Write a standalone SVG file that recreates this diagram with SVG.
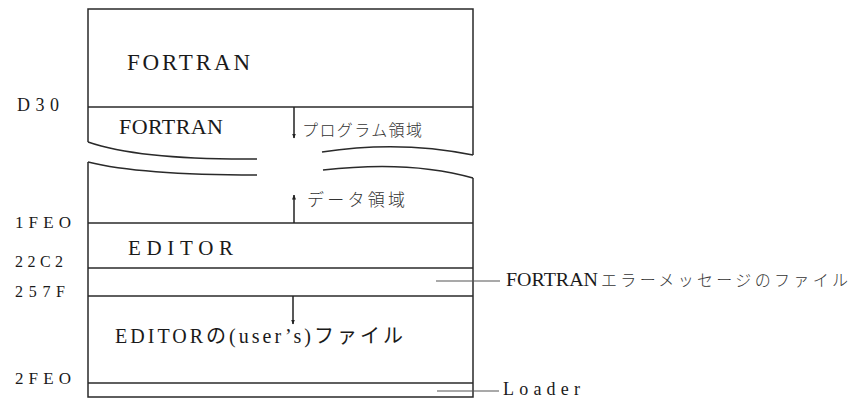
<svg xmlns="http://www.w3.org/2000/svg" width="861" height="399" viewBox="0 0 861 399">
<style>
.ln{stroke:#2a2a2a;stroke-width:1.5;fill:none}
.ld{stroke:#555;stroke-width:1.2;fill:none}
.t{font-family:'Liberation Serif','DejaVu Serif','Noto Sans CJK JP',serif;fill:#1a1a1a}
.j{font-family:'Noto Sans CJK JP',sans-serif;fill:#333;font-weight:300}
.a{stroke:#222;stroke-width:1.5;fill:none}
</style>
<defs>
<marker id="ah" viewBox="0 0 10 10" refX="9" refY="5" markerWidth="5" markerHeight="7" orient="auto" markerUnits="userSpaceOnUse">
<path d="M0,1 L10,5 L0,9 Z" fill="#222"/>
</marker>
</defs>
<rect width="861" height="399" fill="#fff"/>
<g id="memory-box">
<path class="ln" d="M88,142 V9 H473 V155"/>
<path class="ln" d="M88,142 Q140,160 257,159"/>
<path class="ln" d="M322,152 Q400,140 473,155"/>
<path class="ln" d="M88,162 Q140,175 257,175"/>
<path class="ln" d="M323,170 Q410,160 473,178"/>
<path class="ln" d="M88,162 V397 H473 V178"/>
</g>
<g id="fortran-system">
<text class="t" x="127" y="70" font-size="23" textLength="123" lengthAdjust="spacing">FORTRAN</text>
</g>
<g id="addr-d30">
<line class="ln" x1="88" y1="107" x2="473" y2="107"/>
<text class="t" x="17" y="111" font-size="18" textLength="42" lengthAdjust="spacing">D30</text>
</g>
<g id="fortran-area">
<text class="t" x="119" y="134" font-size="22" textLength="104" lengthAdjust="spacing">FORTRAN</text>
<text class="j" x="302" y="136" font-size="16" textLength="120" lengthAdjust="spacing">プログラム領域</text>
<text class="j" x="307" y="206" font-size="17" textLength="98" lengthAdjust="spacing">データ領域</text>
</g>
<g id="addr-1feo">
<line class="ln" x1="88" y1="223" x2="473" y2="223"/>
<text class="t" x="15" y="228" font-size="17" textLength="56" lengthAdjust="spacing">1FEO</text>
</g>
<g id="editor">
<text class="t" x="128" y="255" font-size="21" textLength="105" lengthAdjust="spacing">EDITOR</text>
</g>
<g id="addr-22c2">
<line class="ln" x1="88" y1="268" x2="473" y2="268"/>
<text class="t" x="15" y="267" font-size="16" textLength="48" lengthAdjust="spacing">22C2</text>
</g>
<g id="fortran-error-file">
<text class="t" x="506" y="286" font-size="18" textLength="92" lengthAdjust="spacingAndGlyphs">FORTRAN</text>
<text class="j" x="601" y="286" font-size="16" textLength="247" lengthAdjust="spacing">エラーメッセージのファイル</text>
</g>
<g id="addr-257f">
<line class="ln" x1="88" y1="296" x2="473" y2="296"/>
<text class="t" x="15" y="297" font-size="16" textLength="50" lengthAdjust="spacing">257F</text>
</g>
<g id="editor-user-file">
<text class="t" x="115" y="343" font-size="20" textLength="288" lengthAdjust="spacing">EDITORの(user’s)ファイル</text>
</g>
<g id="addr-2feo">
<line class="ln" x1="88" y1="383" x2="473" y2="383"/>
<text class="t" x="15" y="384" font-size="17" textLength="56" lengthAdjust="spacing">2FEO</text>
</g>
<g id="loader">
<text class="t" x="503" y="395" font-size="18" textLength="77" lengthAdjust="spacing">Loader</text>
</g>
<g id="connectors">
<line class="a" x1="294" y1="107" x2="294" y2="138" marker-end="url(#ah)"/>
<line class="a" x1="294" y1="223" x2="294" y2="195" marker-end="url(#ah)"/>
<line class="a" x1="293" y1="296" x2="293" y2="324" marker-end="url(#ah)"/>
<line class="ld" x1="436" y1="281" x2="500" y2="281"/>
<line class="ld" x1="437" y1="391" x2="499" y2="391"/>
</g>
</svg>
